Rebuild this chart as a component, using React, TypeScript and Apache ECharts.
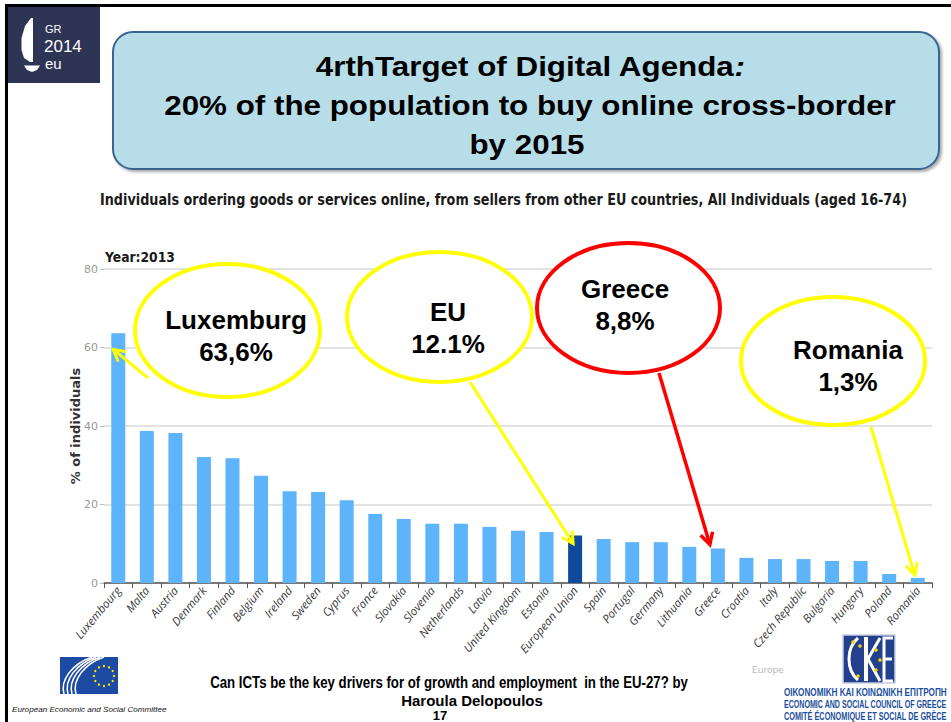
import React, { useEffect, useRef } from "react";
import * as echarts from "echarts";

// ---- data ----
const countries = [
  "Luxembourg", "Malta", "Austria", "Denmark", "Finland", "Belgium", "Ireland", "Sweden",
  "Cyprus", "France", "Slovakia", "Slovenia", "Netherlands", "Latvia", "United Kingdom",
  "Estonia", "European Union", "Spain", "Portugal", "Germany", "Lithuania", "Greece",
  "Croatia", "Italy", "Czech Republic", "Bulgaria", "Hungary", "Poland", "Romania",
];
const values = [
  63.6, 38.7, 38.2, 32.1, 31.8, 27.3, 23.4, 23.2, 21.1, 17.6, 16.3, 15.1, 15.1, 14.3, 13.3,
  13.0, 12.1, 11.2, 10.4, 10.4, 9.2, 8.8, 6.4, 6.1, 6.1, 5.6, 5.6, 2.3, 1.3,
];
const highlightCountry = "European Union";
const yTicks = [0, 20, 40, 60, 80];
const titleLines = ["4rthTarget of Digital Agenda", "20% of the population to buy online cross-border", "by 2015"];
const subtitle = "Individuals ordering goods or services online, from sellers from other EU countries, All Individuals (aged 16-74)";
const yearLabel = "Year:2013";
const yAxisName = "% of individuals";
const calloutCountries = ["Luxembourg", "European Union", "Greece", "Romania"];
const calloutNames = ["Luxemburg", "EU", "Greece", "Romania"];
const calloutValues = ["63,6%", "12.1%", "8,8%", "1,3%"];
const footerLines = [
  "Can ICTs be the key drivers for of growth and employment  in the EU-27? by",
  "Haroula Delopoulos",
  "17",
];
const eescCaption = "European Economic and Social Committee";
const okeLines = [
  "ΟΙΚΟΝΟΜΙΚΗ ΚΑΙ ΚΟΙΝΩΝΙΚΗ ΕΠΙΤΡΟΠΗ",
  "ECONOMIC AND SOCIAL COUNCIL OF GREECE",
  "COMITÉ ÉCONOMIQUE ET SOCIAL DE GRÈCE",
];

const ARIAL = '"Liberation Sans", Arial, sans-serif';
const TAHOMA = '"DejaVu Sans", Verdana, sans-serif';

function textWidth(text: string, font: string): number {
  const ctx = document.createElement("canvas").getContext("2d") as CanvasRenderingContext2D;
  ctx.font = font;
  return ctx.measureText(text).width;
}

function fitText(text: string, font: string, x: number, y: number, width: number, fill: string, align: string) {
  const scaleX = width / textWidth(text, font);
  return {
    type: "text",
    x,
    y,
    scaleX,
    style: { text, font, fill, textAlign: align, align, textVerticalAlign: "middle", verticalAlign: "middle" },
  };
}

function plainText(text: string, font: string, x: number, y: number, fill: string, scaleX = 1) {
  return {
    type: "text",
    x,
    y,
    scaleX,
    style: { text, font, fill, textAlign: "center", align: "center", textVerticalAlign: "middle", verticalAlign: "middle" },
  };
}

function arrow(from: number[], tip: number[], color: string, width: number) {
  const dx = tip[0] - from[0];
  const dy = tip[1] - from[1];
  const len = Math.sqrt(dx * dx + dy * dy);
  const bx = -dx / len;
  const by = -dy / len;
  const arm = 13;
  const a = 0.5;
  const p1 = [tip[0] + arm * (bx * Math.cos(a) - by * Math.sin(a)), tip[1] + arm * (bx * Math.sin(a) + by * Math.cos(a))];
  const p2 = [tip[0] + arm * (bx * Math.cos(-a) - by * Math.sin(-a)), tip[1] + arm * (bx * Math.sin(-a) + by * Math.cos(-a))];
  return [
    { type: "line", shape: { x1: from[0], y1: from[1], x2: tip[0], y2: tip[1] }, style: { stroke: color, lineWidth: width } },
    { type: "polyline", shape: { points: [p1, tip, p2] }, style: { stroke: color, lineWidth: width, fill: null } },
  ];
}

export default function App() {
  const ref = useRef<HTMLDivElement>(null);

  useEffect(() => {
    if (!ref.current) return;
    const chart = echarts.init(ref.current, null, { renderer: "svg" });
    const option: any = {
      animation: false,
      backgroundColor: "#ffffff",
      grid: { left: 104, right: 19, top: 269, bottom: 139, containLabel: false },
      xAxis: {
        type: "category",
        data: countries,
        axisLine: { lineStyle: { color: "#555", width: 1.5 } },
        axisTick: { show: true, length: 5, lineStyle: { color: "#555" } },
        axisLabel: {
          interval: 0,
          rotate: 50,
          fontStyle: "italic",
          fontFamily: '"Open Sans", sans-serif',
          fontSize: 11.5,
          color: "#3a3a3a",
          margin: 5,
        },
      },
      yAxis: {
        type: "value",
        min: yTicks[0],
        max: yTicks[yTicks.length - 1],
        interval: yTicks[1] - yTicks[0],
        name: yAxisName,
        nameLocation: "middle",
        nameGap: 22,
        nameMoveOverlap: false,
        nameRotate: 90,
        nameTextStyle: { fontFamily: TAHOMA, fontWeight: "bold", fontSize: 13, color: "#333" },
        axisLine: { show: false },
        axisTick: { show: true, length: 4, lineStyle: { color: "#bbb" } },
        axisLabel: { color: "#999", fontSize: 11, fontFamily: TAHOMA, margin: 6 },
        splitLine: { lineStyle: { color: "#d9d9d9", width: 1.5 } },
      },
      series: [
        {
          type: "bar",
          barWidth: "49%",
          data: values.map((v, i) => ({
            value: v,
            itemStyle: { color: countries[i] === highlightCountry ? "#0d4a9b" : "#5db4fa" },
          })),
        },
      ],
    };
    chart.setOption(option);

    const barTop = (country: string) => {
      const i = countries.indexOf(country);
      return chart.convertToPixel({ xAxisIndex: 0, yAxisIndex: 0 }, [i, values[i]]) as number[];
    };

    // callout layout
    const calloutLayout = [
      { cx: 227.5, cy: 330.5, rx: 92.5, ry: 66.5, tx: 236, ty: [320, 352], color: "#ffff00", from: [148, 378], off: [-5, 16], lw: 3 },
      { cx: 439.5, cy: 317, rx: 92.5, ry: 65, tx: 448, ty: [312, 344], color: "#ffff00", from: [470, 382], off: [-2, 8], lw: 3 },
      { cx: 628.5, cy: 308, rx: 91.5, ry: 65, tx: 625, ty: [289, 321], color: "#ff0000", from: [659, 373], off: [-8, -4], lw: 3.5 },
      { cx: 833, cy: 361, rx: 92, ry: 64, tx: 848, ty: [350, 382], color: "#ffff00", from: [871, 427], off: [-3, -3], lw: 3 },
    ];

    const g: any[] = [];

    // slide frame
    g.push({ type: "line", shape: { x1: 6.5, y1: 4, x2: 6.5, y2: 722 }, style: { stroke: "#000", lineWidth: 3 } });
    g.push({ type: "line", shape: { x1: 5, y1: 5.5, x2: 951, y2: 5.5 }, style: { stroke: "#000", lineWidth: 3 } });

    // GR2014 logo
    g.push({ type: "rect", shape: { x: 8, y: 7, width: 92, height: 76 }, style: { fill: "#2e3454" } });
    g.push({
      type: "polygon",
      shape: { points: [[31, 18], [25, 26], [21.5, 38], [21.5, 50], [24, 58], [30, 62], [33, 62], [33, 18]] },
      style: { fill: "#ffffff" },
    });
    g.push({ type: "polygon", shape: { points: [[24, 65.5], [40, 65.5], [37, 70], [32, 72], [27, 70]] }, style: { fill: "#ffffff" } });
    g.push({ type: "text", x: 45, y: 29, style: { text: "GR", font: `11px ${ARIAL}`, fill: "#fff", textVerticalAlign: "middle", verticalAlign: "middle" } });
    g.push({ type: "text", x: 44, y: 46, style: { text: "2014", font: `17px ${ARIAL}`, fill: "#fff", textVerticalAlign: "middle", verticalAlign: "middle" } });
    g.push({ type: "text", x: 45, y: 63.5, style: { text: "eu", font: `15px ${ARIAL}`, fill: "#fff", textVerticalAlign: "middle", verticalAlign: "middle" } });

    // title box
    g.push({
      type: "rect",
      shape: { x: 113, y: 32, width: 826, height: 137, r: 20 },
      style: { fill: "#b7dde8", stroke: "#3b6591", lineWidth: 2, shadowBlur: 3, shadowOffsetX: 2, shadowOffsetY: 2, shadowColor: "rgba(0,0,0,0.35)" },
    });
    g.push({
      type: "text",
      x: 530,
      y: 66,
      scaleX: 1.12,
      style: {
        text: `{a|${titleLines[0]}}{b|:}`,
        textAlign: "center",
        align: "center",
        textVerticalAlign: "middle",
        verticalAlign: "middle",
        rich: {
          a: { font: `bold 28px ${ARIAL}`, fill: "#000" },
          b: { font: `italic bold 28px ${ARIAL}`, fill: "#000" },
        },
      },
    });
    g.push(plainText(titleLines[1], `bold 28px ${ARIAL}`, 530, 105, "#000", 1.12));
    g.push(plainText(titleLines[2], `bold 28px ${ARIAL}`, 527, 144, "#000", 1.12));

    // subtitle and year
    g.push(fitText(subtitle, `bold 15px ${TAHOMA}`, 100, 200, 807, "#1a1a1a", "left"));
    g.push(fitText(yearLabel, `bold 14px ${TAHOMA}`, 105, 257, 70, "#1a1a1a", "left"));

    // callouts: ellipses first, then arrows on top, then text
    calloutLayout.forEach((c) => {
      g.push({ type: "ellipse", shape: { cx: c.cx, cy: c.cy, rx: c.rx, ry: c.ry }, style: { fill: "#ffffff", stroke: c.color, lineWidth: 4 } });
    });
    calloutLayout.forEach((c, k) => {
      const top = barTop(calloutCountries[k]);
      const tip = [top[0] + c.off[0], top[1] + c.off[1]];
      g.push(...arrow(c.from, tip, c.color, c.lw));
      g.push(plainText(calloutNames[k], `bold 26px ${ARIAL}`, c.tx, c.ty[0], "#000"));
      g.push(plainText(calloutValues[k], `bold 26px ${ARIAL}`, c.tx, c.ty[1], "#000"));
    });

    // watermark
    g.push({ type: "text", x: 752, y: 670, style: { text: "Europe", font: `9px ${TAHOMA}`, fill: "#b8b8b8", textVerticalAlign: "middle", verticalAlign: "middle" } });

    // footer
    g.push(fitText(footerLines[0], `bold 16px ${ARIAL}`, 449, 683, 478, "#000", "center"));
    g.push(plainText(footerLines[1], `bold 15px ${ARIAL}`, 472, 700, "#000"));
    g.push(plainText(footerLines[2], `bold 13px ${ARIAL}`, 440, 715, "#000"));

    // EESC logo
    g.push({ type: "rect", shape: { x: 60, y: 657, width: 58, height: 37 }, style: { fill: "#1d4aa3" } });
    [0, 4, 8, 12].forEach((d) => {
      g.push({
        type: "bezierCurve",
        shape: { x1: 64 + d, y1: 694, cpx1: 60 + d, cpy1: 680, cpx2: 72 + d, cpy2: 664, x2: 92 + d, y2: 657 },
        style: { stroke: "#ffffff", lineWidth: 1.6, fill: null },
      });
    });
    for (let s = 0; s < 12; s++) {
      const ang = (s / 12) * Math.PI * 2;
      g.push({ type: "circle", shape: { cx: 104 + 10 * Math.cos(ang), cy: 676 + 10 * Math.sin(ang), r: 1.2 }, style: { fill: "#ffe000" } });
    }
    g.push(fitText(eescCaption, `italic 8px ${ARIAL}`, 12, 710, 155, "#111", "left"));

    // OKE logo
    g.push({ type: "rect", shape: { x: 843, y: 635, width: 52, height: 48 }, style: { fill: "#23408f", stroke: "#c8d0e0", lineWidth: 1.5 } });
    g.push({ type: "bezierCurve", shape: { x1: 858, y1: 638, cpx1: 846, cpy1: 648, cpx2: 846, cpy2: 670, x2: 858, y2: 680 }, style: { stroke: "#fff", lineWidth: 3, fill: null } });
    g.push({ type: "line", shape: { x1: 866, y1: 637, x2: 866, y2: 681 }, style: { stroke: "#fff", lineWidth: 4 } });
    g.push({ type: "line", shape: { x1: 868, y1: 659, x2: 880, y2: 638 }, style: { stroke: "#fff", lineWidth: 3 } });
    g.push({ type: "line", shape: { x1: 868, y1: 659, x2: 880, y2: 681 }, style: { stroke: "#fff", lineWidth: 3 } });
    g.push({ type: "polyline", shape: { points: [[893, 638], [884, 638], [884, 681], [893, 681]] }, style: { stroke: "#fff", lineWidth: 3, fill: null } });
    g.push({ type: "line", shape: { x1: 884, y1: 659, x2: 892, y2: 659 }, style: { stroke: "#fff", lineWidth: 3 } });
    [[853, 642], [860, 646], [876, 650], [880, 660], [876, 670], [858, 676]].forEach((p) => {
      g.push({ type: "circle", shape: { cx: p[0], cy: p[1], r: 1.8 }, style: { fill: "#f5d000" } });
    });
    okeLines.forEach((t, k) => {
      g.push(fitText(t, `bold 10px ${ARIAL}`, 784, 693 + k * 12, 163, "#1b4f9c", "left"));
    });

    g.forEach((el) => {
      el.z = 100;
    });

    chart.setOption({ graphic: { elements: g } });

    return () => chart.dispose();
  }, []);

  return (
    <div
      ref={ref}
      style={{ position: "fixed", left: 0, top: 0, width: 951, height: 722, background: "#fff" }}
    />
  );
}
